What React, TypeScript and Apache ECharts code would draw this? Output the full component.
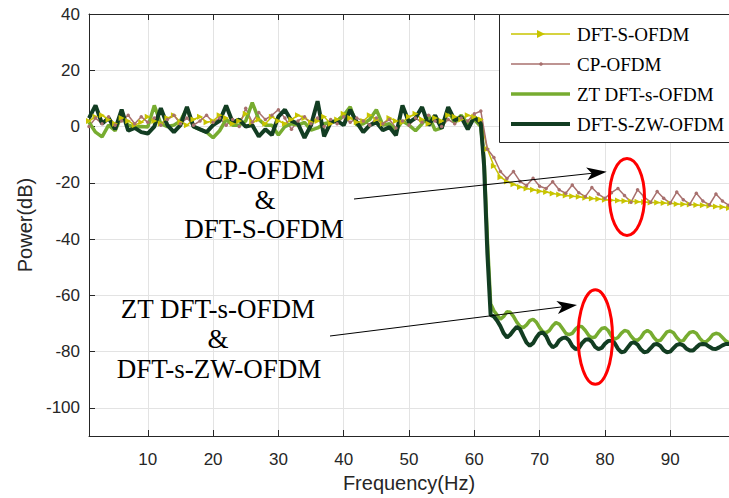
import React, { useEffect, useRef } from "react";
import * as echarts from "echarts";

// Sample grids (frequency, Hz)
const FREQ = Array.from({ length: 99 }, (_, i) => i + 1);
const FREQ_NOISE = FREQ.slice(0, 61);
const FREQ_TAIL = Array.from({ length: 76 }, (_, i) => 61.5 + i * 0.5);

const X_TICKS = [10, 20, 30, 40, 50, 60, 70, 80, 90];
const Y_TICKS = [-100, -80, -60, -40, -20, 0, 20, 40];

// DFT-S-OFDM (f = 1..99)
const DFT_S_OFDM = [
  2, 3.5, 4, 2.5, 1, 3, 2, 0.5, 1.5, 3.5,
  2, 1, 3, 4, 1.5, 0.5, 2.5, 3.5, 1.5, 2,
  4, 3, 1, 2, 4.5, 1.5, 2.5, 1, 3.5, 2,
  1, 2.5, 4, 3, 1.5, 2, 3.5, 1, 2.5, 4.5,
  3, 1.5, 2, 4, 2.5, 1, 3, 2, 1.5, 3.5,
  4.5, 2.5, 1, 3, 2, 4, 3.5, 2.5, 4, 3.5,
  2.5, -8, -14, -18, -19.5, -20.5, -21.5, -22, -22.5, -23,
  -23.3, -23.8, -24.2, -24.5, -24.8, -25, -25.3, -25.6, -25.8, -26,
  -26.2, -26.3, -26.5, -26.6, -26.7, -26.8, -27, -27, -27.2, -27.3,
  -27.5, -27.6, -27.7, -27.9, -28, -28.2, -28.4, -28.6, -29,
];

// CP-OFDM (f = 1..99)
const CP_OFDM = [
  0, 3, 1, 3.5, 0.5, 2, 4, 1, 3.5, 1.5,
  3, 0.5, 2.5, 4, 1, 3, 0.5, 2, 4, 1.5,
  3, 0.5, 2.5, 0, 6.5, 1.5, 5, 2.5, 4, 6,
  3, -1, 2, 3.5, 1, 3, 0, 2.5, 1, 3.5,
  1.5, 3, 2, 0.5, 3, 1, 2.5, -0.5, 2, 0.5,
  3, 1.5, 4, 2, 0, 2.5, 1, 3, 2, 4.5,
  5.5, -8, -11, -16, -18.5, -16, -19.5, -21, -18.4, -21.2,
  -22, -19.6, -22.5, -23.7, -20.8, -23.5, -24.9, -21.7, -24, -25.5,
  -23.5, -22, -24.5, -26.9, -22.5, -25, -26.9, -23.1, -25.5, -27.2,
  -23.3, -26, -27.6, -23.7, -26.5, -27.8, -24, -26.5, -28,
];

// ZT DFT-s-OFDM: f = 1..61, then f = 61.5..99 (step 0.5)
const ZT_NOISE = [
  1.5, -2, -3.7, 0.5, -1.5, 4, 0.5, -0.2, 0, -0.2,
  7.5, 1, 0, 0.5, 2, 6.5, 0, -1, -2, -4,
  -1.5, 2.5, 0.5, 0.5, 2, 8.5, 2.5, 0.5, 0.5, -3,
  0, 1, 0.5, 1.5, -1.3, -0.5, 1, 1.5, 2, 4,
  7, 0.5, 1, 2.5, 6, 0.5, 1, -1.3, 2, 0.5,
  -1.5, 1, 4, -1.3, -0.5, 5.5, 1.5, 4, 1, 2.5,
  0,
];
const ZT_TAIL = [
  -12, -40, -63, -65.5, -67, -68.5, -67.5, -65.8, -66, -67.5,
  -69.5, -71, -71.5, -70.5, -69, -68.5, -69.5, -71.5, -73, -73.3,
  -72.5, -70.8, -69.7, -70.2, -71.8, -73.5, -74, -73.5, -72, -71,
  -71.2, -72.5, -74.2, -75.1, -74.8, -73.2, -71.8, -71.5, -72.5, -74.5,
  -75.6, -75, -73.5, -72.5, -72.8, -74.5, -75.8, -76, -75, -73.2,
  -72.5, -73.2, -75, -76.2, -76, -74.5, -73, -72.7, -73.3, -75,
  -76.2, -76.1, -74.5, -73.2, -72.9, -73.5, -75.2, -76.4, -76.5, -75.5,
  -74, -73.5, -73.8, -75, -76.2, -76.8,
];

// DFT-S-ZW-OFDM: f = 1..61, then f = 61.5..99 (step 0.5)
const ZW_NOISE = [
  3, 7.5, 1, 3, -1, 6, -1.5, -0.5, -2, -2.5,
  0, 6.5, 0.5, -2, 0.5, 7, 0, -1, -2, 0.5,
  2, 7.5, 1.5, 2.5, 0, 0.5, -3.5, -1, -3, 3.5,
  6, 2, 1, -4, 0.5, 9, -3.5, 1.5, 2, 0.5,
  6, 1.5, -2, 0.5, 1.5, -1.3, -0.2, -3.1, 7.5, 1.5,
  3, 6.9, 0.4, 4, -0.7, 6.9, 2.2, 3.4, -1, 3.4,
  1,
];
const ZW_TAIL = [
  -14, -45, -67, -67.5, -69, -71, -73.5, -75, -74, -72.5,
  -71.2, -72, -74.5, -76.8, -77.9, -77, -75, -73.5, -73.2, -74.5,
  -77, -78.5, -77.8, -76, -75.2, -75, -76, -78, -79.1, -78.8,
  -77, -75.8, -75.6, -76.5, -78.3, -79.1, -78.7, -77.2, -76.2, -76.1,
  -77, -79, -80.2, -80, -78.5, -77, -76.7, -77.5, -79.2, -80.2,
  -80, -78.8, -77.5, -77.3, -78, -79.5, -80.2, -80, -78.8, -77.6,
  -77.3, -77.8, -79, -79.6, -79.6, -78.5, -77.5, -77.3, -77.5, -78.3,
  -79, -79.1, -78.5, -77.8, -77.3, -77.3,
];

const SERIES_NAMES = ["DFT-S-OFDM", "CP-OFDM", "ZT DFT-s-OFDM", "DFT-S-ZW-OFDM"];
const SERIES_COLORS = ["#c8c400", "#a8706e", "#77ac30", "#123d22"];
const SERIES_WIDTHS = [1.5, 1.5, 3.5, 4];

const SANS = '"Liberation Sans", Arial, Helvetica, sans-serif';
const SERIF = '"Liberation Serif", "Times New Roman", Times, serif';
const AXIS_COLOR = "#262626";

function arrowHead(sx: number, sy: number, tx: number, ty: number) {
  const dx = tx - sx;
  const dy = ty - sy;
  const len = Math.hypot(dx, dy);
  const ux = dx / len;
  const uy = dy / len;
  const nx = -uy;
  const ny = ux;
  const L = 20;
  const W = 6.5;
  const bx = tx - L * ux;
  const by = ty - L * uy;
  const kx = tx - 15 * ux;
  const ky = ty - 15 * uy;
  return [
    [tx, ty],
    [bx + W * nx, by + W * ny],
    [kx, ky],
    [bx - W * nx, by - W * ny],
  ];
}

export default function App() {
  const ref = useRef<HTMLDivElement>(null);

  useEffect(() => {
    if (!ref.current) return;
    const chart = echarts.init(ref.current, null, { renderer: "svg" });

    const pairs = (xs: number[], ys: number[]) => xs.map((x, i) => [x, ys[i]]);
    const ztData = [...pairs(FREQ_NOISE, ZT_NOISE), ...pairs(FREQ_TAIL, ZT_TAIL)];
    const zwData = [...pairs(FREQ_NOISE, ZW_NOISE), ...pairs(FREQ_TAIL, ZW_TAIL)];

    const a1 = { sx: 354, sy: 199, tx: 606.7, ty: 171.7 };
    const a2 = { sx: 330, sy: 336, tx: 577, ty: 305 };

    const textEl = (text: string, x: number, y: number) => ({
      type: "text",
      z: 100,
      style: {
        text,
        x,
        y,
        align: "center",
        verticalAlign: "middle",
        fontSize: 27,
        fontFamily: SERIF,
        fill: "#000",
      },
    });

    // Legend drawn as graphics (box, line samples, markers, labels)
    const LEG_X = 499.5;
    const LEG_Y = 14.5;
    const ROW0 = 34;
    const ROW_GAP = 30;
    const legendEls: any[] = [
      {
        type: "rect",
        z: 110,
        shape: { x: LEG_X, y: LEG_Y, width: 240, height: 128 },
        style: { fill: "#fff", stroke: AXIS_COLOR, lineWidth: 1 },
      },
    ];
    SERIES_NAMES.forEach((name, i) => {
      const y = ROW0 + i * ROW_GAP;
      legendEls.push({
        type: "line",
        z: 111,
        shape: { x1: 511, y1: y, x2: 570, y2: y },
        style: { stroke: SERIES_COLORS[i], lineWidth: SERIES_WIDTHS[i] },
      });
      legendEls.push({
        type: "text",
        z: 111,
        style: {
          text: name,
          x: 577,
          y,
          align: "left",
          verticalAlign: "middle",
          fontSize: 19,
          fontFamily: SERIF,
          fill: "#000",
        },
      });
    });
    legendEls.push({
      type: "polygon",
      z: 112,
      shape: { points: [[537, ROW0 - 4], [545, ROW0], [537, ROW0 + 4]] },
      style: { fill: SERIES_COLORS[0] },
    });
    legendEls.push({
      type: "circle",
      z: 112,
      shape: { cx: 541, cy: ROW0 + ROW_GAP, r: 1.8 },
      style: { fill: SERIES_COLORS[1] },
    });

    chart.setOption({
      animation: false,
      backgroundColor: "#fff",
      grid: { left: 89, top: 14, right: 0, bottom: 59, containLabel: false },
      xAxis: [
        {
          type: "value",
          min: 1,
          max: 99,
          minInterval: 10,
          maxInterval: 10,
          name: "Frequency(Hz)",
          nameLocation: "middle",
          nameGap: 37,
          nameTextStyle: { fontFamily: SANS, fontSize: 20, color: AXIS_COLOR },
          axisLine: { show: true, onZero: false, lineStyle: { color: AXIS_COLOR, width: 1 } },
          axisTick: { show: true, inside: true, length: 6, lineStyle: { color: AXIS_COLOR } },
          axisLabel: {
            showMinLabel: false,
            showMaxLabel: false,
            margin: 15,
            fontFamily: SANS,
            fontSize: 17,
            color: AXIS_COLOR,
            formatter: (v: number) => (X_TICKS.includes(v) ? String(v) : ""),
          },
          splitLine: { show: true, lineStyle: { color: "#e3e3e3", width: 1 } },
        },
        {
          type: "value",
          position: "top",
          min: 1,
          max: 99,
          minInterval: 10,
          maxInterval: 10,
          axisLine: { show: true, onZero: false, lineStyle: { color: AXIS_COLOR, width: 1 } },
          axisTick: { show: true, inside: true, length: 6, lineStyle: { color: AXIS_COLOR } },
          axisLabel: { show: false },
          splitLine: { show: false },
        },
      ],
      yAxis: {
        type: "value",
        min: -110,
        max: 40,
        minInterval: 20,
        maxInterval: 20,
        name: "Power(dB)",
        nameLocation: "middle",
        nameGap: 54,
        nameTextStyle: { fontFamily: SANS, fontSize: 20, color: AXIS_COLOR },
        axisLine: { show: true, onZero: false, lineStyle: { color: AXIS_COLOR, width: 1 } },
        axisTick: { show: true, inside: true, length: 6, lineStyle: { color: AXIS_COLOR } },
        axisLabel: {
          showMinLabel: false,
          margin: 9,
          fontFamily: SANS,
          fontSize: 17,
          color: AXIS_COLOR,
          formatter: (v: number) => (Y_TICKS.includes(v) ? String(v) : ""),
        },
        splitLine: { show: true, lineStyle: { color: "#e3e3e3", width: 1 } },
      },
      series: [
        {
          name: SERIES_NAMES[0],
          type: "line",
          data: pairs(FREQ, DFT_S_OFDM),
          symbol: "triangle",
          symbolSize: 6,
          symbolRotate: -90,
          showSymbol: true,
          lineStyle: { color: SERIES_COLORS[0], width: SERIES_WIDTHS[0] },
          itemStyle: { color: SERIES_COLORS[0] },
          emphasis: { disabled: true },
        },
        {
          name: SERIES_NAMES[1],
          type: "line",
          data: pairs(FREQ, CP_OFDM),
          symbol: "circle",
          symbolSize: 3.5,
          showSymbol: true,
          lineStyle: { color: SERIES_COLORS[1], width: SERIES_WIDTHS[1] },
          itemStyle: { color: SERIES_COLORS[1] },
          emphasis: { disabled: true },
        },
        {
          name: SERIES_NAMES[2],
          type: "line",
          data: ztData,
          symbol: "none",
          lineStyle: { color: SERIES_COLORS[2], width: SERIES_WIDTHS[2] },
          itemStyle: { color: SERIES_COLORS[2] },
          emphasis: { disabled: true },
        },
        {
          name: SERIES_NAMES[3],
          type: "line",
          data: zwData,
          symbol: "none",
          lineStyle: { color: SERIES_COLORS[3], width: SERIES_WIDTHS[3] },
          itemStyle: { color: SERIES_COLORS[3] },
          emphasis: { disabled: true },
        },
      ],
      graphic: [
        ...legendEls,
        textEl("CP-OFDM", 265, 170),
        textEl("&", 265, 200),
        textEl("DFT-S-OFDM", 264, 229),
        textEl("ZT DFT-s-OFDM", 218, 309),
        textEl("&", 218, 339),
        textEl("DFT-s-ZW-OFDM", 219, 369),
        {
          type: "line",
          z: 100,
          shape: { x1: a1.sx, y1: a1.sy, x2: a1.tx - 12, y2: a1.ty + 1.3 },
          style: { stroke: "#000", lineWidth: 1 },
        },
        {
          type: "polygon",
          z: 100,
          shape: { points: arrowHead(a1.sx, a1.sy, a1.tx, a1.ty) },
          style: { fill: "#000" },
        },
        {
          type: "line",
          z: 100,
          shape: { x1: a2.sx, y1: a2.sy, x2: a2.tx - 12, y2: a2.ty + 1.5 },
          style: { stroke: "#000", lineWidth: 1 },
        },
        {
          type: "polygon",
          z: 100,
          shape: { points: arrowHead(a2.sx, a2.sy, a2.tx, a2.ty) },
          style: { fill: "#000" },
        },
        {
          type: "ellipse",
          z: 100,
          shape: { cx: 627, cy: 197, rx: 17.5, ry: 38.5 },
          style: { fill: "none", stroke: "#ff0000", lineWidth: 3 },
        },
        {
          type: "ellipse",
          z: 100,
          shape: { cx: 595.3, cy: 337, rx: 17.2, ry: 47.3 },
          style: { fill: "none", stroke: "#ff0000", lineWidth: 3 },
        },
      ],
    });

    return () => chart.dispose();
  }, []);

  return (
    <div
      ref={ref}
      style={{ position: "fixed", left: 0, top: 0, width: 729, height: 498, background: "#fff" }}
    />
  );
}
